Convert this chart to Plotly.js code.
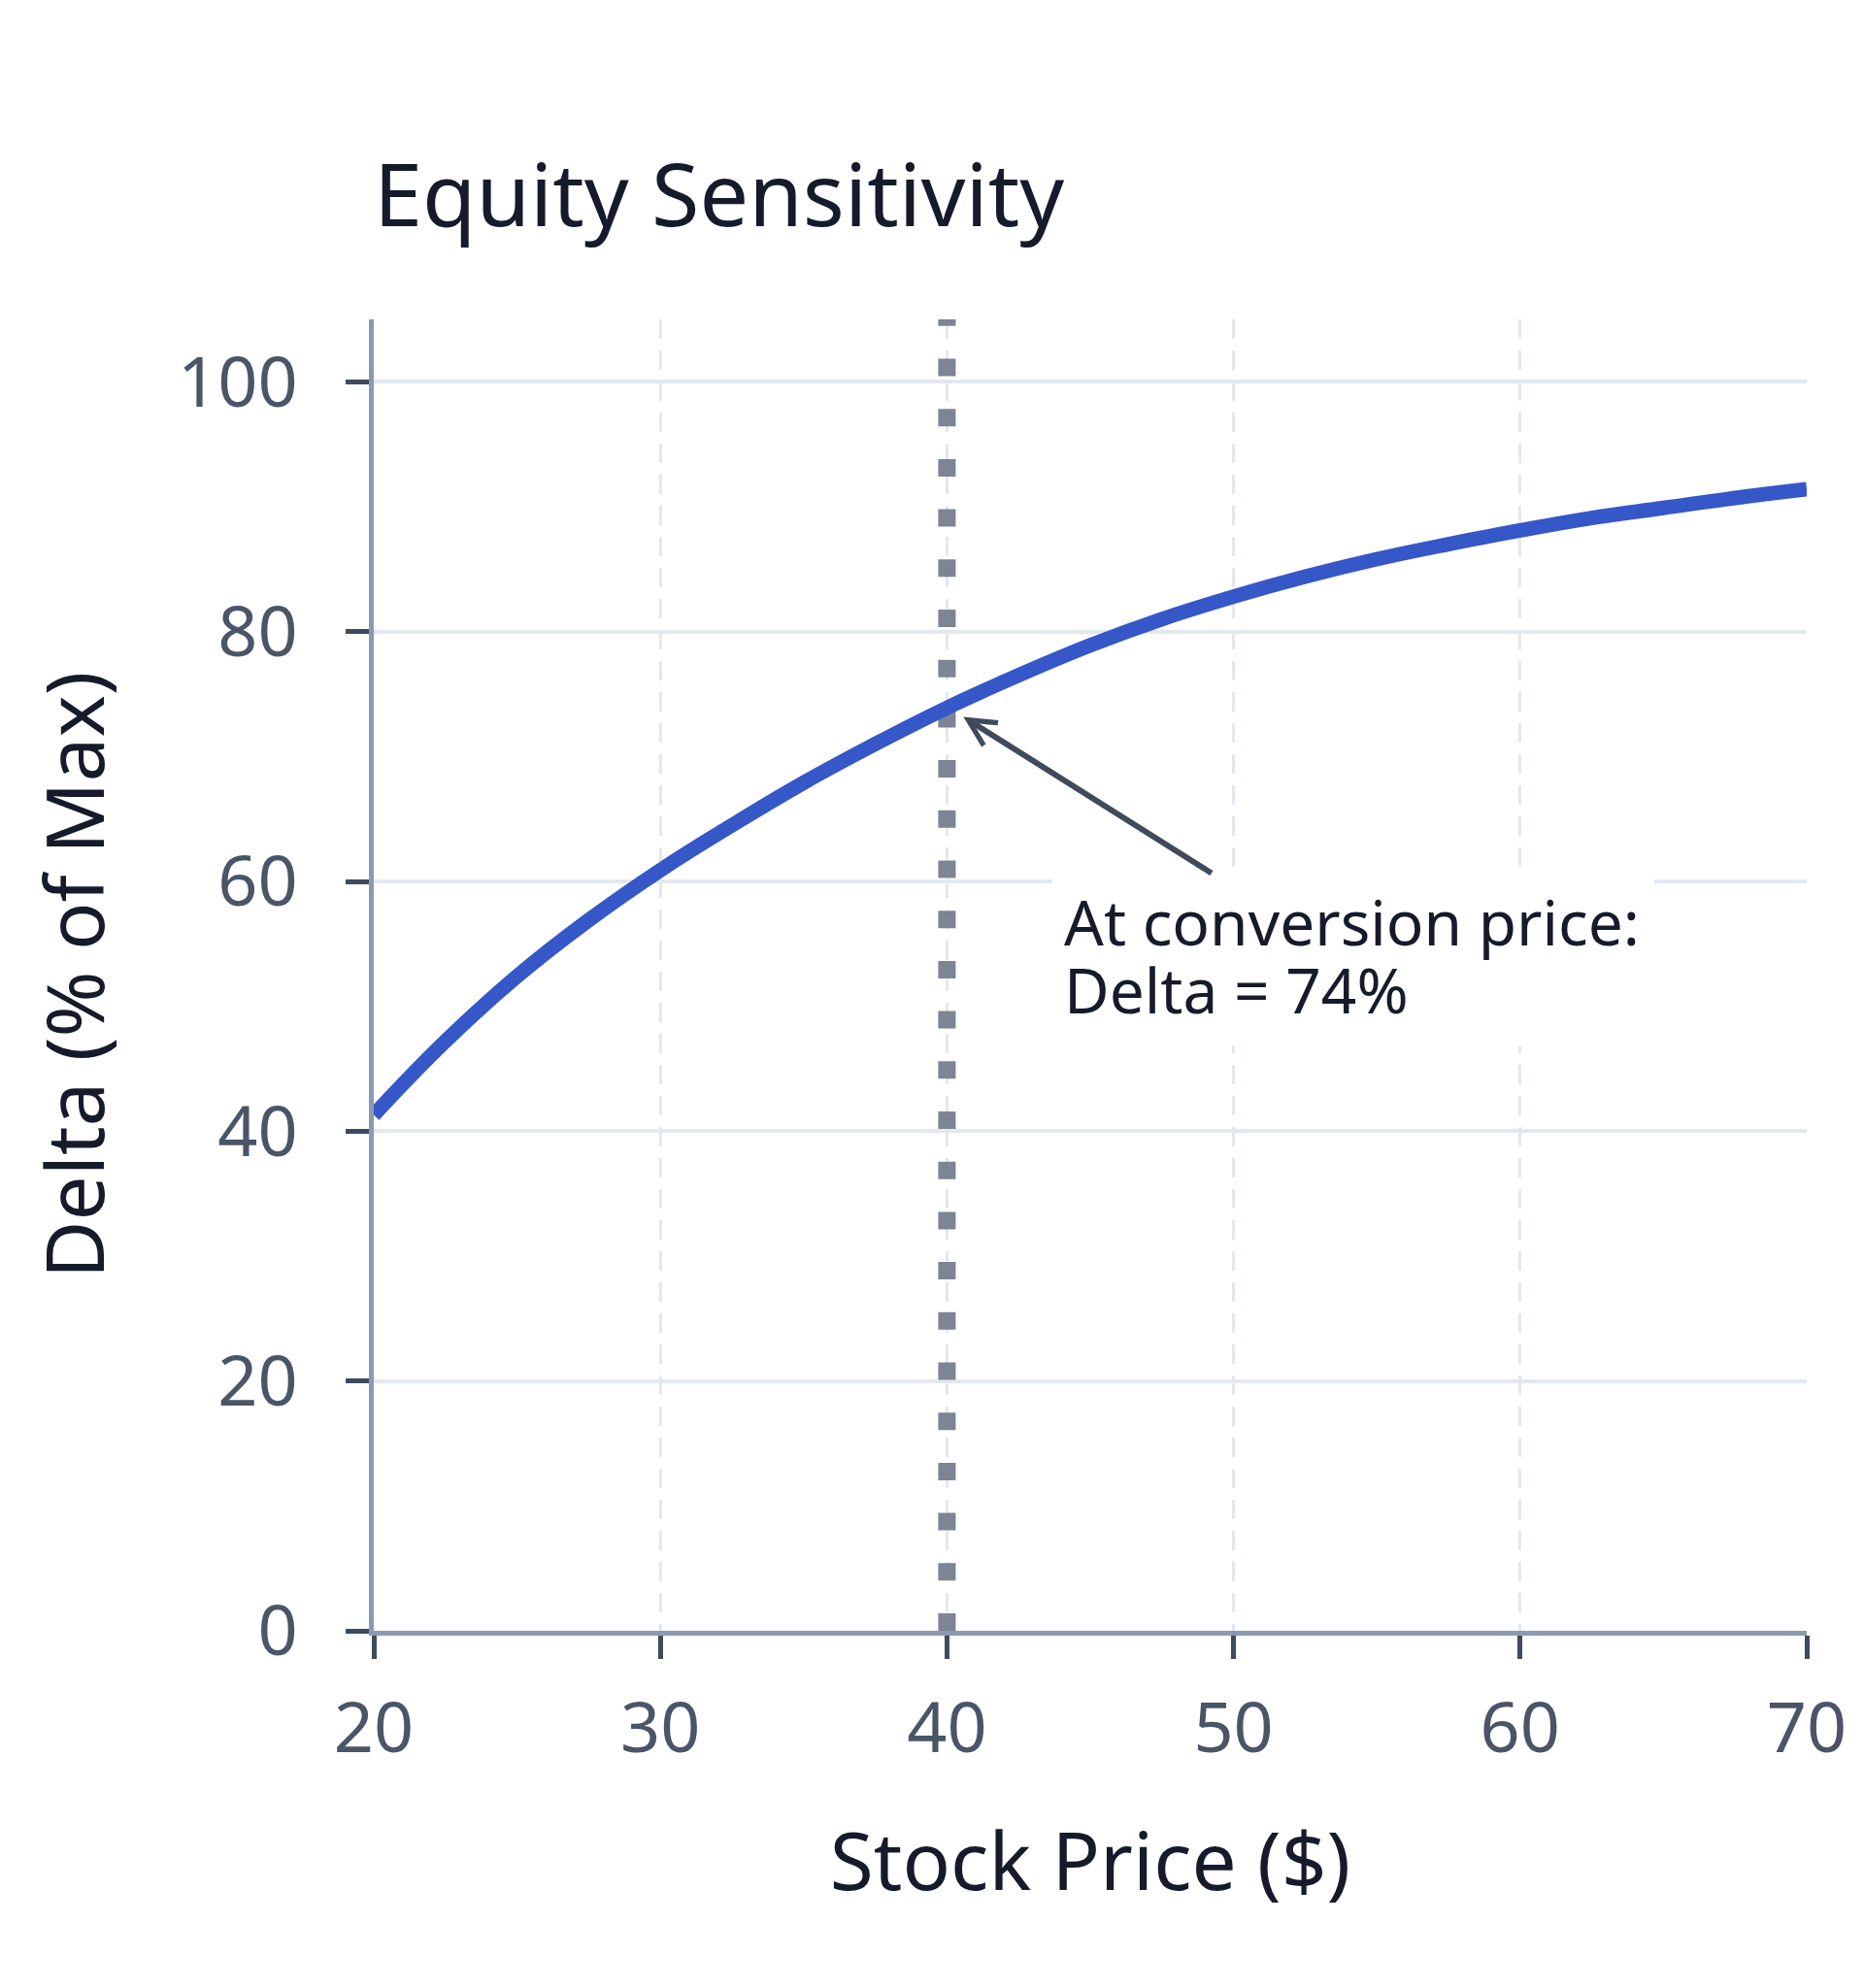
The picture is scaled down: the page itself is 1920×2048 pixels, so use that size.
<!DOCTYPE html>
<html>
<head>
<meta charset="utf-8">
<script src="https://cdn.plot.ly/plotly-3.0.1.min.js"></script>
<style>
  html, body { margin: 0; padding: 0; background: #ffffff; }
  #chart { width: 1920px; height: 2048px; }
</style>
</head>
<body>
<div id="chart"></div>
<script>
// Delta curve
const stockPrice = [20, 22.5, 25, 27.5, 30, 32.5, 35, 37.5, 40, 42.5, 45, 47.5, 50, 52.5, 55, 57.5, 60, 62.5, 65, 67.5, 70];
const deltaPct = [41.3, 47.2, 52.4, 56.9, 60.9, 64.5, 67.9, 71.0, 73.9, 76.5, 78.9, 81.0, 82.8, 84.4, 85.8, 87.0, 88.1, 89.1, 89.9, 90.7, 91.4];

const conversionPrice = 40;
const deltaAtConversion = 74;
const noteLines = ['At conversion price:', 'Delta = 74%'];

const xTicks = [20, 30, 40, 50, 60, 70];
const yTicks = [0, 20, 40, 60, 80, 100];

const fontFamily = '"Noto Sans", "Open Sans", sans-serif';

// Annotation box placement (data units)
const noteBox = { x0: 43.68, x1: 64.68, y0: 46.8, y1: 60.5 };
const noteX = 44.02;
const noteY = [56.8, 51.3];

const curve = {
    x: stockPrice,
    y: deltaPct,
    mode: 'lines',
    type: 'scatter',
    line: { color: '#3557c8', width: 15, shape: 'spline', smoothing: 1.2 },
    hoverinfo: 'skip',
    showlegend: false
};

const annotations = [
    {
        x: conversionPrice,
        y: deltaAtConversion,
        xref: 'x',
        yref: 'y',
        text: '',
        font: { size: 2 },
        borderpad: 0,
        showarrow: true,
        ax: 273,
        ay: 172,
        arrowhead: 5,
        arrowsize: 0.9,
        arrowwidth: 6,
        arrowcolor: '#3f4b5c',
        standoff: 20
    }
];
noteLines.forEach((line, i) => {
    annotations.push({
        x: noteX,
        y: noteY[i],
        xref: 'x',
        yref: 'y',
        text: line,
        showarrow: false,
        xanchor: 'left',
        yanchor: 'middle',
        align: 'left',
        font: { family: fontFamily, size: 64, color: '#151b2b' }
    });
});

const layout = {
    width: 1920,
    height: 2048,
    paper_bgcolor: '#ffffff',
    plot_bgcolor: '#ffffff',
    font: { family: fontFamily, color: '#4a5568' },
    margin: { l: 385, r: 59, t: 329, b: 368 },
    title: {
        text: 'Equity Sensitivity',
        font: { family: fontFamily, size: 90, color: '#151b2b' },
        x: 0,
        xref: 'paper',
        xanchor: 'left',
        y: 1 - 201 / 2048,
        yref: 'container',
        yanchor: 'middle'
    },
    xaxis: {
        range: [20, 70],
        tickvals: xTicks,
        showgrid: true,
        gridcolor: '#e3e8ef',
        gridwidth: 3,
        griddash: '20px,12px',
        zeroline: false,
        showline: true,
        linecolor: '#8a9ab0',
        linewidth: 5,
        ticks: 'outside',
        ticklen: 24,
        tickwidth: 5,
        tickcolor: '#3d4b5e',
        ticklabelstandoff: 10,
        tickfont: { family: fontFamily, size: 72, color: '#4a5568' },
        title: {
            text: 'Stock Price ($)',
            font: { family: fontFamily, size: 82, color: '#151b2b' },
            standoff: 66
        }
    },
    yaxis: {
        range: [0, 105],
        tickvals: yTicks,
        showgrid: true,
        gridcolor: '#e3e8ef',
        gridwidth: 4,
        zeroline: false,
        showline: true,
        linecolor: '#8a9ab0',
        linewidth: 5,
        ticks: 'outside',
        ticklen: 24,
        tickwidth: 5,
        tickcolor: '#3d4b5e',
        ticklabelstandoff: 35,
        tickfont: { family: fontFamily, size: 72, color: '#4a5568' },
        title: {
            text: 'Delta (% of Max)',
            font: { family: fontFamily, size: 82, color: '#151b2b' },
            standoff: 50
        }
    },
    shapes: [
        {
            type: 'line',
            xref: 'x',
            yref: 'y',
            x0: conversionPrice,
            x1: conversionPrice,
            y0: 0,
            y1: 105,
            layer: 'between',
            line: { color: '#7d8494', width: 18, dash: '18px,33.7px' }
        },
        {
            type: 'rect',
            xref: 'x',
            yref: 'y',
            x0: noteBox.x0,
            x1: noteBox.x1,
            y0: noteBox.y0,
            y1: noteBox.y1,
            layer: 'between',
            fillcolor: '#ffffff',
            line: { width: 0 }
        }
    ],
    annotations: annotations,
    showlegend: false
};

Plotly.newPlot('chart', [curve], layout, { displayModeBar: false, responsive: false });
</script>
</body>
</html>
